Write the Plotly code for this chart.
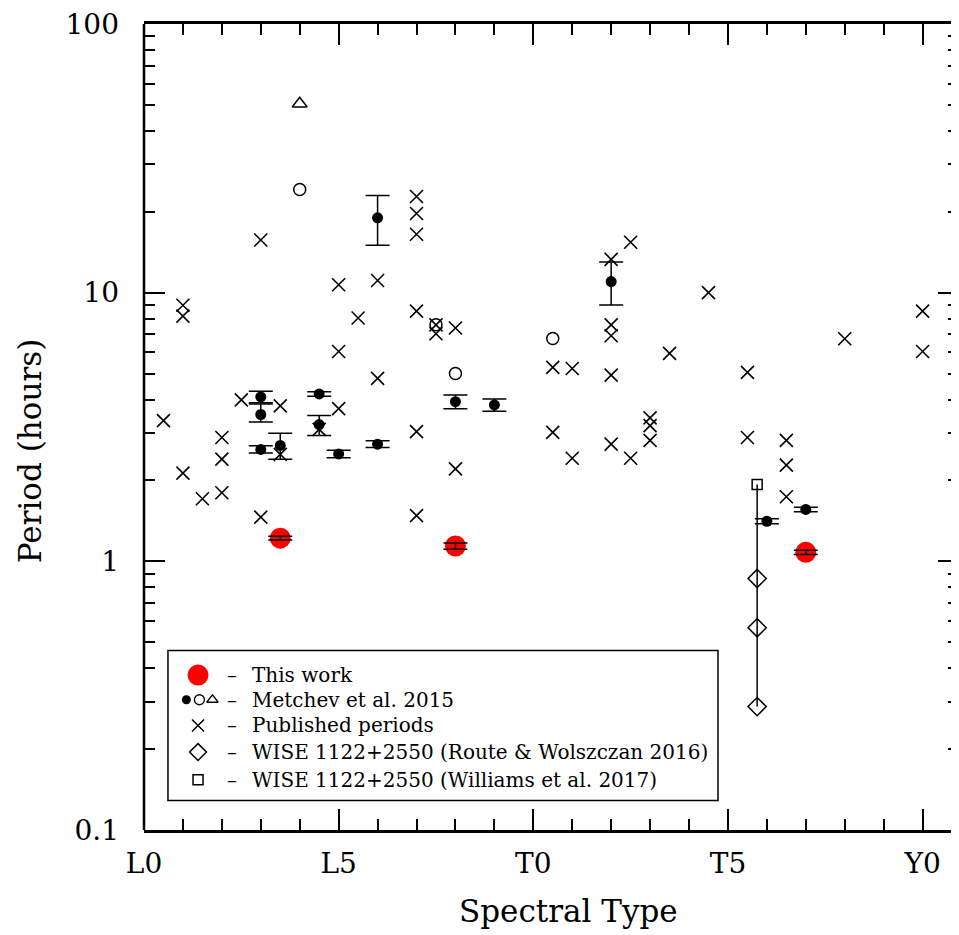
import plotly.graph_objects as go

# spectral type coded numerically: L0 = 0, T0 = 10, Y0 = 20
tick_pos = [0, 5, 10, 15, 20]
tick_text = ["L0", "L5", "T0", "T5", "Y0"]
minor_x = [v for v in range(0, 22) if v % 5 != 0]
major_y = [0.1, 1, 10, 100]
minor_y = [m * d for d in (0.1, 1, 10) for m in range(2, 10)]

# this work
this_sptype = [3.5, 8.0, 17.0]
this_period = [1.22, 1.14, 1.08]
this_err = [0.02, 0.03, 0.02]

# Metchev et al. 2015 (filled circles, with uncertainties)
met_sptype = [3.0, 3.0, 3.0, 3.5, 4.5, 4.5, 5.0, 6.0, 6.0, 8.0, 9.0, 12.0, 16.0, 17.0]
met_period = [4.09, 3.52, 2.61, 2.70, 4.20, 3.23, 2.51, 2.73, 19.0, 3.93, 3.82, 11.0, 1.41, 1.56]
met_err_hi = [0.21, 0.33, 0.08, 0.30, 0.08, 0.26, 0.08, 0.08, 4.0, 0.23, 0.20, 2.0, 0.03, 0.03]
met_err_lo = [0.20, 0.22, 0.08, 0.30, 0.08, 0.29, 0.08, 0.08, 4.0, 0.23, 0.20, 2.0, 0.03, 0.03]

# Metchev et al. 2015 (open circles, triangle)
met_open_sptype = [4.0, 7.5, 8.0, 10.5]
met_open_period = [24.2, 7.6, 5.0, 6.75]
met_tri_sptype = [4.0]
met_tri_period = [50.5]

# published periods
pub_sptype = [0.5, 1, 1, 1, 1.5, 2, 2, 2, 2.5, 3, 3, 3.5, 3.5, 4.5,
              5, 5, 5, 5.5, 6, 6, 7, 7, 7, 7, 7, 7, 7.5, 7.5, 8, 8,
              10.5, 10.5, 11, 11, 12, 12, 12, 12, 12, 12.5, 12.5,
              13, 13, 13, 13.5, 14.5, 15.5, 15.5, 16.5, 16.5, 16.5, 18, 20, 20]
pub_period = [3.34, 8.98, 8.18, 2.13, 1.71, 2.89, 2.40, 1.80, 3.99, 15.7, 1.46, 3.79, 2.50, 3.1,
              10.7, 6.04, 3.70, 8.05, 11.1, 4.80, 22.8, 19.7, 16.5, 8.54, 3.04, 1.48, 7.03, 7.59, 7.39, 2.21,
              5.27, 3.02, 5.22, 2.42, 13.3, 7.59, 6.91, 4.93, 2.73, 15.4, 2.42,
              3.42, 3.20, 2.82, 5.94, 10.0, 5.05, 2.89, 2.82, 2.28, 1.74, 6.74, 8.54, 6.04]

# WISE 1122+2550
wise_sptype = 15.75
wise_rw_period = [0.863, 0.566, 0.288]   # Route & Wolszczan 2016
wise_w_period = [1.93]                   # Williams et al. 2017

FONT = "DejaVu Serif"
# the page body has an 8px margin, so the figure is sized to end at the window edge
W, H = 951, 927
ML, MR, MT, MB = 136, 0, 5, 105
px_per_unit = 38.93
x_max = (W - ML - MR) / px_per_unit
plot_h = H - MT - MB

fig = go.Figure()

# WISE 1122+2550 range line
wise_all = wise_w_period + wise_rw_period
fig.add_trace(go.Scatter(
    x=[wise_sptype, wise_sptype], y=[max(wise_all), min(wise_all)],
    mode="lines", line=dict(color="black", width=1.5), hoverinfo="skip"))

fig.add_trace(go.Scatter(
    x=pub_sptype, y=pub_period, mode="markers",
    marker=dict(symbol="x-thin", size=13, line=dict(color="black", width=1.6))))

fig.add_trace(go.Scatter(
    x=met_open_sptype, y=met_open_period, mode="markers",
    marker=dict(symbol="circle-open", size=12, color="black", line=dict(width=1.5))))

fig.add_trace(go.Scatter(
    x=met_tri_sptype, y=met_tri_period, mode="markers",
    marker=dict(symbol="triangle-up-open", size=13, color="black", line=dict(width=1.5))))

fig.add_trace(go.Scatter(
    x=met_sptype, y=met_period, mode="markers",
    marker=dict(symbol="circle", size=11, color="black"),
    error_y=dict(type="data", array=met_err_hi, arrayminus=met_err_lo,
                 color="black", thickness=1.5, width=12)))

fig.add_trace(go.Scatter(
    x=[wise_sptype] * len(wise_rw_period), y=wise_rw_period, mode="markers",
    marker=dict(symbol="diamond-open", size=14, color="black", line=dict(width=1.5))))

fig.add_trace(go.Scatter(
    x=[wise_sptype] * len(wise_w_period), y=wise_w_period, mode="markers",
    marker=dict(symbol="square-open", size=10, color="black", line=dict(width=1.5))))

fig.add_trace(go.Scatter(
    x=this_sptype, y=this_period, mode="markers",
    marker=dict(symbol="circle", size=21, color="#ff0000")))

# error bars drawn over the red points
fig.add_trace(go.Scatter(
    x=this_sptype, y=this_period, mode="markers",
    marker=dict(size=1, color="rgba(0,0,0,0)"),
    error_y=dict(type="data", array=this_err, color="black", thickness=1.5, width=12)))

# legend (drawn by hand on an overlay axis in paper units)
leg_rows = [0.1922, 0.1616, 0.1297, 0.0967, 0.0624]
sym_x = 0.0663
leg_items = [
    ([sym_x], "circle", 21, "#ff0000", 0),
    ([0.052], "circle", 9, "black", 0),
    ([0.068], "circle-open", 10, "black", 1.3),
    ([0.084], "triangle-up-open", 10, "black", 1.3),
    ([sym_x], "x-thin", 12, "black", 1.5),
    ([sym_x], "diamond-open", 13, "black", 1.5),
    ([sym_x], "square-open", 10, "black", 1.5),
]
leg_row_of = [0, 1, 1, 1, 2, 3, 4]
for (xs, sym, size, col, lw), r in zip(leg_items, leg_row_of):
    fig.add_trace(go.Scatter(
        x=xs, y=[leg_rows[r]], xaxis="x2", yaxis="y2", mode="markers",
        marker=dict(symbol=sym, size=size, color=col, line=dict(color=col, width=lw))))

leg_text = ["This work", "Metchev et al. 2015", "Published periods",
            "WISE 1122+2550 (Route & Wolszczan 2016)",
            "WISE 1122+2550 (Williams et al. 2017)"]
for yy, txt in zip(leg_rows, leg_text):
    fig.add_annotation(x=0.108, y=yy, xref="paper", yref="paper", text="–",
                       showarrow=False, xanchor="center", yanchor="middle",
                       font=dict(family=FONT, size=20, color="black"))
    fig.add_annotation(x=0.130, y=yy, xref="paper", yref="paper", text=txt,
                       showarrow=False, xanchor="left", yanchor="middle",
                       font=dict(family=FONT, size=20, color="black"))

fig.add_shape(type="rect", xref="paper", yref="paper",
              x0=0.0294, x1=0.7043, y0=0.0367, y1=0.2228,
              line=dict(color="black", width=1.5))
# left frame line
fig.add_shape(type="line", xref="paper", yref="paper", x0=0, x1=0, y0=0, y1=1,
              line=dict(color="black", width=2.5))

# axis titles
fig.add_annotation(x=(568 - 144) / (W - ML), y=-82 / plot_h, xref="paper", yref="paper",
                   text="Spectral Type", showarrow=False, yanchor="middle",
                   font=dict(family=FONT, size=31, color="black"))
fig.add_annotation(x=-114 / (W - ML), y=(830 - 446) / plot_h, xref="paper", yref="paper",
                   text="Period (hours)", showarrow=False, textangle=-90,
                   xanchor="center", yanchor="middle",
                   font=dict(family=FONT, size=31, color="black"))

fig.update_layout(
    width=W, height=H,
    margin=dict(l=ML, r=MR, t=MT, b=MB),
    paper_bgcolor="white", plot_bgcolor="white",
    showlegend=False,
    xaxis=dict(
        range=[0, x_max], tickvals=tick_pos, ticktext=tick_text,
        ticks="inside", ticklen=21, tickwidth=2, tickcolor="black",
        minor=dict(tickvals=minor_x, ticks="inside", ticklen=11, tickwidth=2, tickcolor="black"),
        showline=True, linewidth=2.5, linecolor="black", mirror="ticks",
        showgrid=False, zeroline=False, ticklabelstandoff=7,
        ticklabeloverflow="allow",
        tickfont=dict(family=FONT, size=28, color="black")),
    yaxis=dict(
        type="log", range=[-1, 2], tickvals=major_y, ticktext=["0.1", "1", "10", "100"],
        ticks="inside", ticklen=21, tickwidth=2, tickcolor="black",
        minor=dict(tickvals=minor_y, ticks="inside", ticklen=11, tickwidth=2, tickcolor="black"),
        showline=False, mirror="ticks",
        showgrid=False, zeroline=False, ticklabelstandoff=24,
        ticklabeloverflow="allow",
        tickfont=dict(family=FONT, size=28, color="black")),
    xaxis2=dict(overlaying="x", range=[0, 1], visible=False),
    yaxis2=dict(overlaying="y", range=[0, 1], visible=False),
)

fig.write_html("out.html")
